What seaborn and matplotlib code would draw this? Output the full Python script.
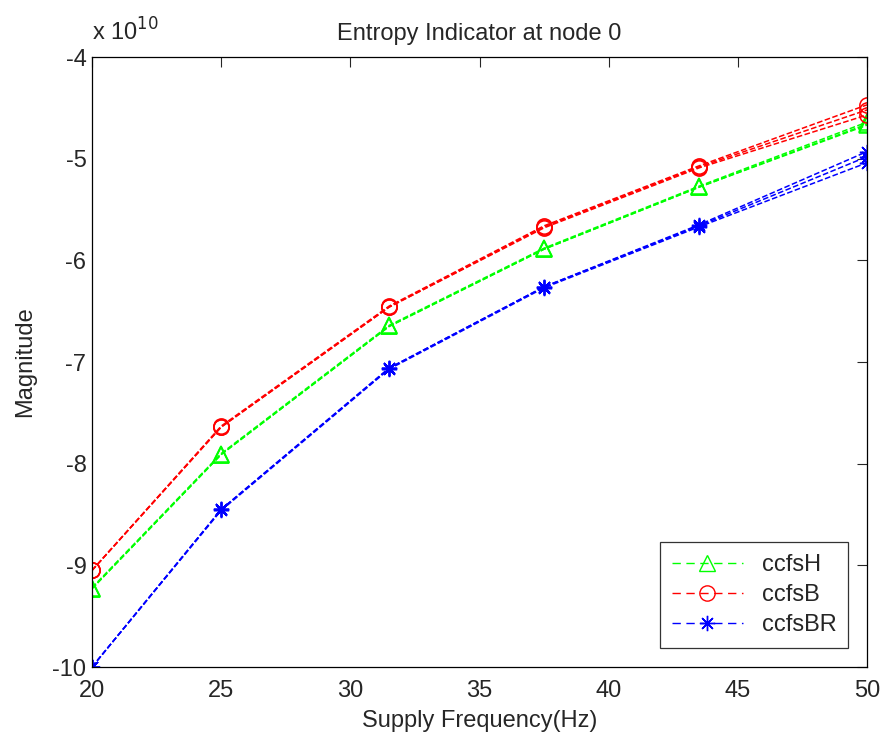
import numpy as np
import pandas as pd
import seaborn as sns
import matplotlib.pyplot as plt
from matplotlib.lines import Line2D

# supply frequency (Hz)
freq = [20, 25, 31.5, 37.5, 43.5, 50]

# magnitude in units of 1e10, three runs per method
ccfsH = [
    [-9.22, -7.90, -6.64, -5.88, -5.27, -4.64],
    [-9.23, -7.91, -6.65, -5.89, -5.28, -4.66],
    [-9.23, -7.91, -6.65, -5.89, -5.28, -4.67],
]
ccfsB = [
    [-9.05, -7.63, -6.45, -5.66, -5.07, -4.47],
    [-9.05, -7.64, -6.46, -5.67, -5.08, -4.52],
    [-9.05, -7.64, -6.46, -5.68, -5.09, -4.57],
]
ccfsBR = [
    [-10.0, -8.45, -7.06, -6.26, -5.65, -4.93],
    [-10.0, -8.45, -7.06, -6.26, -5.66, -4.98],
    [-10.0, -8.46, -7.07, -6.27, -5.67, -5.04],
]

series = {"ccfsH": ccfsH, "ccfsB": ccfsB, "ccfsBR": ccfsBR}
colors = {"ccfsH": "#00ff00", "ccfsB": "#ff0000", "ccfsBR": "#0000ff"}
markers = {"ccfsH": "^", "ccfsB": "o", "ccfsBR": (8, 2, 0)}

sns.set_style("white")
plt.rcParams["font.family"] = ["Liberation Sans", "DejaVu Sans"]
fs = 17

fig = plt.figure(figsize=(8.87, 7.35), dpi=100)
ax = fig.add_axes([0.1037, 0.0925, 0.8738, 0.8299])

for name, runs in series.items():
    for run in runs:
        sns.lineplot(x=freq, y=run, ax=ax, color=colors[name], linestyle="--",
                     dashes=(6, 4), linewidth=1.1, marker=markers[name],
                     markersize=11, markerfacecolor="none",
                     markeredgecolor=colors[name], markeredgewidth=1.1,
                     legend=False, estimator=None)

ax.set_xlim(20, 50)
ax.set_ylim(-10, -4)
ax.set_xticks([20, 25, 30, 35, 40, 45, 50])
ax.set_yticks([-10, -9, -8, -7, -6, -5, -4])
ax.set_yticklabels(["-10", "-9", "-8", "-7", "-6", "-5", "-4"])
ax.tick_params(direction="in", length=7, width=0.8, labelsize=fs,
               top=True, right=True)
ax.tick_params(axis="x", pad=9)
ax.tick_params(axis="y", pad=4)
for s in ax.spines.values():
    s.set_color("black")
    s.set_linewidth(0.9)

ax.set_title("Entropy Indicator at node 0", fontsize=fs, pad=12)
ax.set_xlabel("Supply Frequency(Hz)", fontsize=fs, labelpad=6)
ax.set_ylabel("Magnitude", fontsize=fs, labelpad=12)
ax.text(0.0, 1.018, "x 10$^{10}$", transform=ax.transAxes, fontsize=fs,
        ha="left", va="bottom")

handles = [Line2D([], [], color=colors[n], linestyle="--", dashes=(6, 4),
                  linewidth=1.0, marker=markers[n], markersize=11,
                  markerfacecolor="none", markeredgecolor=colors[n])
           for n in series]
leg = ax.legend(handles, list(series), loc="lower right", fontsize=fs,
                frameon=True, fancybox=False, edgecolor="black",
                handlelength=3.0, borderaxespad=0.8, labelspacing=0.35,
                borderpad=0.5, handletextpad=0.8)
leg.get_frame().set_linewidth(0.9)

fig.savefig("out.png", dpi=100)
